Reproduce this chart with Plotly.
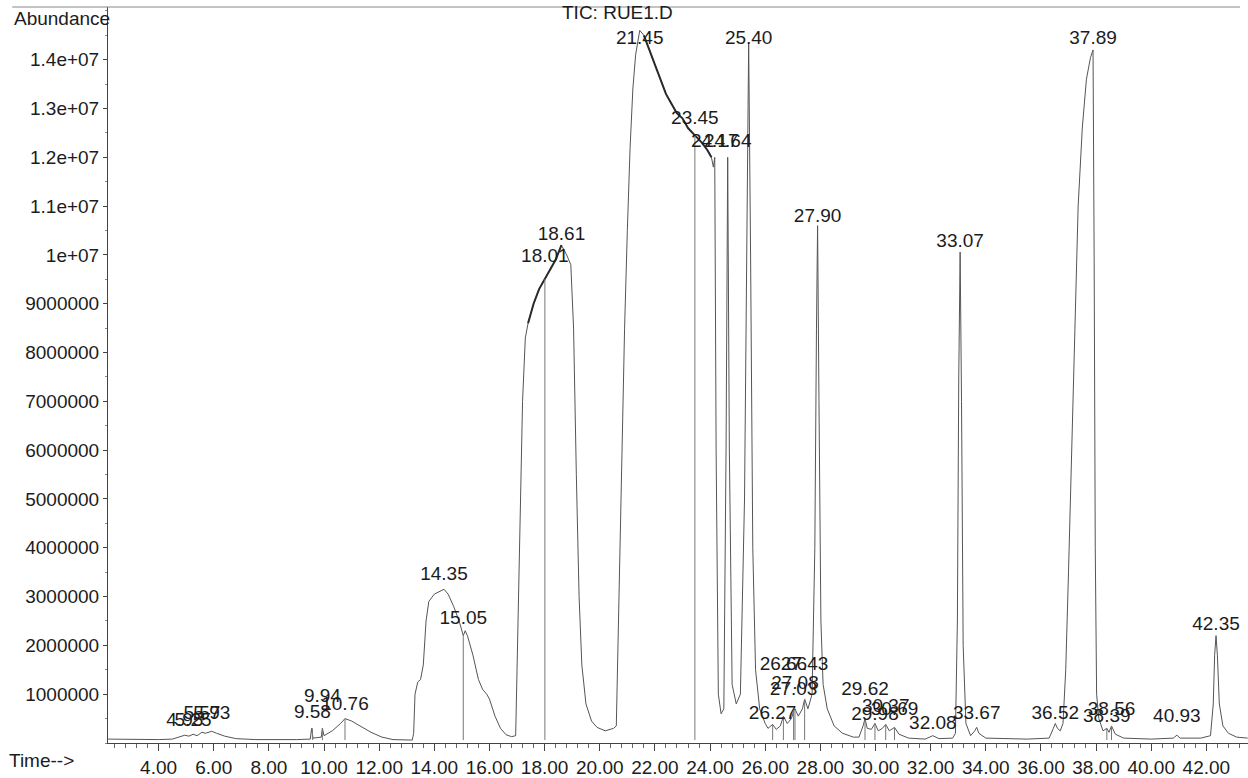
import plotly.graph_objects as go

# ---------------- data ----------------
# chromatogram outline: retention time (min) and abundance (millions of counts)
time_min = [
    2.17, 3.0, 4.0, 4.5, 4.7, 4.95, 5.1, 5.25, 5.4, 5.57, 5.7, 5.93, 6.1, 6.4, 6.8, 7.5,
    9.0, 9.5, 9.55, 9.6, 9.9, 9.94, 10.0, 10.3, 10.6, 10.76, 11.0, 11.3, 11.7, 12.1, 12.5, 13.2,
    13.25, 13.3, 13.4, 13.5, 13.6, 13.7, 13.8, 14.0, 14.2, 14.35, 14.5, 14.7, 14.9, 15.0, 15.05,
    15.12, 15.2, 15.4, 15.6, 15.75, 15.9, 16.0, 16.2, 16.4, 16.6, 16.8, 16.95,
    17.0, 17.1, 17.2, 17.3, 17.4, 17.6, 17.8, 18.0, 18.2, 18.4, 18.61, 18.8, 18.95, 19.05,
    19.15, 19.25, 19.35, 19.5, 19.7, 19.9, 20.2, 20.5,
    20.6, 20.7, 20.8, 20.9, 21.0, 21.1, 21.2, 21.3, 21.45, 21.6, 21.8, 22.0, 22.2, 22.4, 22.6,
    22.8, 23.0, 23.2, 23.45, 23.7, 23.9, 24.05, 24.12, 24.17, 24.22, 24.3, 24.4,
    24.5, 24.58, 24.64, 24.7, 24.8, 24.95, 25.1, 25.25, 25.33, 25.40, 25.47, 25.55, 25.65, 25.8, 26.0,
    26.1, 26.27, 26.4, 26.55, 26.66, 26.8, 26.95, 27.03, 27.08, 27.2, 27.35, 27.43, 27.55, 27.7,
    27.8, 27.86, 27.90, 27.95, 28.02, 28.1, 28.25, 28.5, 28.8, 29.2,
    29.4, 29.55, 29.62, 29.7, 29.85, 29.98, 30.1, 30.25, 30.37, 30.5, 30.69, 30.85, 31.2, 31.8,
    32.08, 32.3, 32.8, 32.9, 32.97, 33.02, 33.07, 33.12, 33.18, 33.28, 33.45, 33.6, 33.67, 33.75, 34.0,
    35.5, 36.3, 36.45, 36.52, 36.6, 36.7, 36.8, 36.9, 37.0, 37.1, 37.2, 37.35, 37.5, 37.65, 37.8,
    37.89, 37.93, 37.97, 38.02, 38.1, 38.25, 38.39, 38.47, 38.56, 38.7, 39.0, 40.0, 40.8, 40.93,
    41.05, 41.8, 42.15, 42.25, 42.3, 42.35, 42.4, 42.47, 42.6, 42.8, 43.1, 43.5,
]
abundance_m = [
    0.08, 0.07, 0.07, 0.08, 0.12, 0.16, 0.14, 0.18, 0.15, 0.22, 0.20, 0.24, 0.20, 0.14, 0.09, 0.07,
    0.07, 0.08, 0.30, 0.10, 0.12, 0.30, 0.15, 0.25, 0.40, 0.50, 0.45, 0.35, 0.22, 0.12, 0.07, 0.06,
    0.20, 1.00, 1.25, 1.30, 1.60, 2.50, 2.90, 3.05, 3.10, 3.15, 3.05, 2.80, 2.50, 2.30, 2.20,
    2.30, 2.20, 1.80, 1.30, 1.10, 1.00, 0.90, 0.55, 0.30, 0.17, 0.13, 0.15,
    1.50, 4.50, 7.00, 8.30, 8.60, 9.00, 9.30, 9.50, 9.70, 9.90, 10.20, 10.00, 9.80, 8.50,
    5.50, 3.00, 1.60, 0.80, 0.45, 0.32, 0.25, 0.30,
    0.35, 3.00, 6.00, 8.50, 10.50, 12.20, 13.40, 14.10, 14.60, 14.50, 14.20, 13.90, 13.60, 13.30, 13.10,
    12.90, 12.80, 12.60, 12.45, 12.30, 12.15, 12.00, 11.80, 12.00, 6.00, 1.00, 0.60,
    0.70, 6.00, 12.00, 6.00, 1.20, 0.80, 1.00, 5.00, 11.00, 14.35, 10.00, 4.00, 1.50, 0.70, 0.40,
    0.30, 0.38, 0.28, 0.35, 0.55, 0.40, 0.50, 0.65, 0.70, 0.55, 0.70, 0.90, 0.70, 1.00,
    4.00, 8.50, 10.60, 7.00, 2.50, 1.20, 0.70, 0.35, 0.20, 0.12,
    0.12, 0.35, 0.50, 0.30, 0.28, 0.40, 0.25, 0.30, 0.38, 0.25, 0.32, 0.18, 0.10, 0.08,
    0.15, 0.09, 0.10, 0.20, 2.50, 7.50, 10.06, 7.00, 2.00, 0.40, 0.15, 0.25, 0.32, 0.20, 0.10,
    0.08, 0.10, 0.30, 0.40, 0.30, 0.25, 0.40, 1.50, 3.50, 5.80, 8.00, 11.00, 12.60, 13.60, 14.05,
    14.20, 10.00, 4.00, 1.00, 0.50, 0.25, 0.30, 0.22, 0.35, 0.18, 0.10, 0.08, 0.10, 0.16,
    0.10, 0.10, 0.15, 0.80, 1.80, 2.20, 1.80, 0.80, 0.35, 0.20, 0.12, 0.10,
]

# vertical peak-split marker lines: time and top (millions)
drop_times = [9.58, 9.94, 10.76, 15.05, 18.01, 23.45, 26.27, 26.66, 27.03, 27.08, 27.43,
              29.62, 29.98, 30.37, 30.69, 38.39, 38.56]
drop_tops = [0.30, 0.30, 0.50, 2.20, 9.50, 12.45, 0.38, 0.55, 0.65, 0.70, 0.90,
             0.50, 0.40, 0.38, 0.32, 0.30, 0.35]

# peak labels: text, time, label height (millions)
peak_label_text = ["4.95", "5.25", "5.57", "5.93", "9.58", "9.94", "10.76", "14.35", "15.05",
                   "18.01", "18.61", "21.45", "23.45", "24.17", "24.64", "25.40", "26.27",
                   "26.66", "27.43", "27.08", "27.03", "27.90", "29.62", "29.98", "30.37",
                   "30.69", "32.08", "33.07", "33.67", "36.52", "37.89", "38.39", "38.56",
                   "40.93", "42.35"]
peak_label_time = [4.95, 5.25, 5.57, 5.93, 9.58, 9.94, 10.76, 14.35, 15.05,
                   18.01, 18.61, 21.45, 23.45, 24.17, 24.64, 25.40, 26.27,
                   26.66, 27.43, 27.08, 27.03, 27.90, 29.62, 29.98, 30.37,
                   30.69, 32.08, 33.07, 33.67, 36.52, 37.89, 38.39, 38.56,
                   40.93, 42.35]
peak_label_y = [0.45, 0.45, 0.59, 0.59, 0.61, 0.94, 0.78, 3.43, 2.53,
                9.96, 10.41, 14.41, 12.78, 12.31, 12.31, 14.41, 0.59,
                1.59, 1.59, 1.20, 1.08, 10.78, 1.08, 0.57, 0.73,
                0.67, 0.39, 10.27, 0.59, 0.59, 14.41, 0.53, 0.67,
                0.53, 2.41]

y_tick_values = [1e6, 2e6, 3e6, 4e6, 5e6, 6e6, 7e6, 8e6, 9e6, 1e7, 1.1e7, 1.2e7, 1.3e7, 1.4e7]
y_tick_text = ["1000000", "2000000", "3000000", "4000000", "5000000", "6000000", "7000000",
               "8000000", "9000000", "1e+07", "1.1e+07", "1.2e+07", "1.3e+07", "1.4e+07"]

# ---------------- figure ----------------
FONT = "Liberation Sans, Arial, sans-serif"
FS = 19
TXT = "#1c1c1c"
LINE = "#555555"

abundance = [v * 1e6 for v in abundance_m]

fig = go.Figure()

fig.add_trace(go.Scatter(x=time_min, y=abundance, mode="lines",
                         line=dict(color=LINE, width=1), hoverinfo="x+y", showlegend=False))

# darker, noisier-looking segments of the trace
for lo, hi in [(17.4, 18.7), (21.6, 24.1)]:
    xs = [t for t in time_min if lo <= t <= hi]
    ys = [a for t, a in zip(time_min, abundance) if lo <= t <= hi]
    fig.add_trace(go.Scatter(x=xs, y=ys, mode="lines", line=dict(color="#2a2a2a", width=2),
                             hoverinfo="skip", showlegend=False))

dx, dy = [], []
for t, top in zip(drop_times, drop_tops):
    dx += [t, t, None]
    dy += [0.06e6, top * 1e6, None]
fig.add_trace(go.Scatter(x=dx, y=dy, mode="lines", line=dict(color="#777777", width=1),
                         hoverinfo="skip", showlegend=False))

fig.add_trace(go.Scatter(x=peak_label_time, y=[v * 1e6 for v in peak_label_y], mode="text",
                         text=peak_label_text, textposition="middle center",
                         textfont=dict(family=FONT, size=FS, color=TXT),
                         cliponaxis=False, hoverinfo="skip", showlegend=False))

fig.update_layout(
    width=1248, height=778, autosize=False,
    margin=dict(l=108, r=0, t=7, b=32),
    paper_bgcolor="white", plot_bgcolor="white",
    font=dict(family=FONT, size=FS, color=TXT),
    xaxis=dict(range=[2.165, 43.51], showgrid=False, zeroline=False,
               showline=True, linecolor="#444444", linewidth=1,
               ticks="outside", ticklen=7, tickcolor="#444444",
               tick0=0, dtick=2, tickformat=".2f",
               tickfont=dict(family=FONT, size=FS, color=TXT),
               minor=dict(ticks="outside", ticklen=4, tickcolor="#666666", dtick=0.4, tick0=0)),
    yaxis=dict(range=[0, 15.08e6], showgrid=False, zeroline=False,
               showline=True, linecolor="#444444", linewidth=1,
               ticks="outside", ticklen=4, tickcolor="#444444",
               tickvals=y_tick_values, ticktext=y_tick_text,
               tickfont=dict(family=FONT, size=FS, color=TXT),
               minor=dict(ticks="outside", ticklen=2, tickcolor="#888888", dtick=0.5e6)),
    shapes=[dict(type="line", xref="paper", yref="paper", x0=-0.084, x1=0.993, y0=1, y1=1,
                 line=dict(color="#888888", width=1))],
    annotations=[
        dict(text="Abundance", xref="paper", yref="paper", x=-0.0842, y=0.985,
             xanchor="left", yanchor="middle", showarrow=False,
             font=dict(family=FONT, size=FS, color=TXT)),
        dict(text="Time-->", xref="paper", yref="paper", x=-0.0886, y=-0.0244,
             xanchor="left", yanchor="middle", showarrow=False,
             font=dict(family=FONT, size=FS, color=TXT)),
        dict(text="TIC: RUE1.D", xref="paper", yref="paper", x=0.4465, y=0.9932,
             xanchor="center", yanchor="middle", showarrow=False,
             font=dict(family=FONT, size=FS, color=TXT)),
    ],
)

fig.write_html(
    "out.html",
    config={"displayModeBar": False},
    post_script="document.body.style.margin='0';document.body.style.padding='0';"
                "document.documentElement.style.overflow='hidden';",
)
